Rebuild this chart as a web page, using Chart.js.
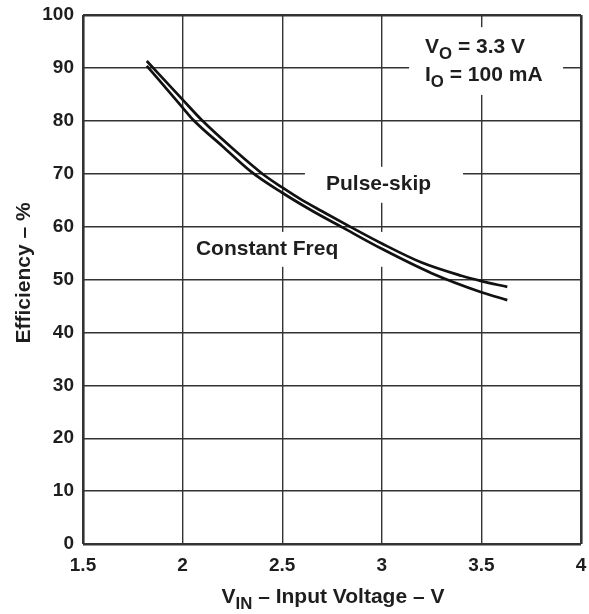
<!DOCTYPE html>
<html>
<head>
<meta charset="utf-8">
<script src="https://cdn.jsdelivr.net/npm/chart.js@4/dist/chart.umd.min.js"></script>
<style>
    html, body { margin: 0; padding: 0; background: #fff; }
    #wrap { width: 589px; height: 614px; position: relative; }
</style>
</head>
<body>
<div id="wrap"><canvas id="effChart"></canvas></div>
<script>
// data
const pulseSkipVin = [1.82, 2.0, 2.1, 2.25, 2.4, 2.5, 2.6, 2.7, 2.84, 3.0, 3.2, 3.4, 3.5, 3.63];
const pulseSkipEff = [91.3, 84.0, 80.0, 74.8, 70.0, 67.4, 65.0, 62.9, 60.0, 56.8, 53.2, 50.7, 49.7, 48.6];

const constFreqVin = [1.82, 2.0, 2.05, 2.2, 2.35, 2.5, 2.65, 2.8, 3.0, 3.25, 3.5, 3.63];
const constFreqEff = [90.4, 82.5, 80.3, 75.2, 70.2, 66.4, 63.0, 59.9, 55.8, 51.2, 47.6, 46.1];

const xTicks = [1.5, 2, 2.5, 3, 3.5, 4];
const yTicks = [0, 10, 20, 30, 40, 50, 60, 70, 80, 90, 100];

const FONT = '"Liberation Sans", Arial, sans-serif';
const INK = "#1e1e1e";
const GRID = "#333";

const toPoints = (xs, ys) => xs.map((x, i) => ({ x: x, y: ys[i] }));

// draws a run of text parts, some as subscripts
function drawRich(ctx, parts, x, y, size) {
    let cx = x;
    parts.forEach((p) => {
        const s = p.sub ? size * 0.8 : size;
        ctx.font = "bold " + s + "px " + FONT;
        ctx.fillText(p.t, cx, p.sub ? y + size * 0.3 : y);
        cx += ctx.measureText(p.t).width;
    });
    return cx - x;
}

function richWidth(ctx, parts, size) {
    let w = 0;
    parts.forEach((p) => {
        ctx.font = "bold " + (p.sub ? size * 0.8 : size) + "px " + FONT;
        w += ctx.measureText(p.t).width;
    });
    return w;
}

const annotations = [
    { box: [3.137, 3.91, 97.7, 84.9], lines: [
        { at: [3.217, 92.8], parts: [{ t: "V" }, { t: "O", sub: true }, { t: " = 3.3 V" }] },
        { at: [3.217, 87.5], parts: [{ t: "I" }, { t: "O", sub: true }, { t: " = 100 mA" }] },
    ] },
    { box: [2.614, 3.408, 71.3, 64.5], lines: [
        { at: [2.72, 66.9], parts: [{ t: "Pulse-skip" }] },
    ] },
    { box: [2.04, 3.35, 59.0, 52.4], lines: [
        { at: [2.067, 54.6], parts: [{ t: "Constant Freq" }] },
    ] },
];

const notesPlugin = {
    id: "notes",
    beforeDatasetsDraw(chart) {
        const { ctx, scales } = chart;
        const x = scales.x, y = scales.y;
        ctx.save();
        annotations.forEach((a) => {
            const l = x.getPixelForValue(a.box[0]);
            const r = x.getPixelForValue(a.box[1]);
            const t = y.getPixelForValue(a.box[2]);
            const b = y.getPixelForValue(a.box[3]);
            ctx.fillStyle = "#fff";
            ctx.fillRect(l, t, r - l, b - t);
            ctx.fillStyle = INK;
            ctx.textBaseline = "alphabetic";
            ctx.textAlign = "left";
            a.lines.forEach((ln) => {
                drawRich(ctx, ln.parts, x.getPixelForValue(ln.at[0]), y.getPixelForValue(ln.at[1]), 21);
            });
        });
        ctx.restore();
    },
    afterDraw(chart) {
        const { ctx } = chart;
        ctx.save();
        ctx.fillStyle = INK;
        ctx.textBaseline = "alphabetic";
        ctx.textAlign = "left";

        // x axis title
        const xParts = [{ t: "V" }, { t: "IN", sub: true }, { t: " – Input Voltage – V" }];
        const w = richWidth(ctx, xParts, 21);
        drawRich(ctx, xParts, 333 - w / 2, 603, 21);

        // y axis title
        ctx.translate(30, 273);
        ctx.rotate(-Math.PI / 2);
        ctx.textAlign = "center";
        ctx.font = "bold 21px " + FONT;
        ctx.fillText("Efficiency – %", 0, 0);
        ctx.restore();
    },
};

const edge = (lo, hi) => (c) => (c.tick && (c.tick.value === lo || c.tick.value === hi) ? 2.6 : 1.4);

new Chart(document.getElementById("effChart"), {
    type: "scatter",

    data: {
        datasets: [
            {
                label: "Pulse-skip",
                data: toPoints(pulseSkipVin, pulseSkipEff),
                showLine: true,
                borderColor: "#111",
                borderWidth: 2.7,
                pointRadius: 0,
                cubicInterpolationMode: "monotone",
            },
            {
                label: "Constant Freq",
                data: toPoints(constFreqVin, constFreqEff),
                showLine: true,
                borderColor: "#111",
                borderWidth: 2.7,
                pointRadius: 0,
                cubicInterpolationMode: "monotone",
            },
        ],
    },

    options: {
        responsive: true,
        maintainAspectRatio: false,
        animation: false,
        events: [],

        layout: {
            padding: { top: 15, right: 8, left: 0, bottom: 0 },
        },

        plugins: {
            legend: { display: false },
            tooltip: { enabled: false },
        },

        scales: {
            x: {
                type: "linear",
                min: 1.5,
                max: 4,
                afterBuildTicks: (s) => { s.ticks = xTicks.map((v) => ({ value: v })); },
                afterFit: (s) => {
                    s.height = 70;
                    s.paddingLeft = 0;
                    s.paddingRight = 0;
                },
                border: { display: false },
                grid: {
                    color: GRID,
                    lineWidth: edge(1.5, 4),
                    drawTicks: false,
                },
                ticks: {
                    color: INK,
                    padding: 10,
                    maxRotation: 0,
                    font: { family: FONT, size: 19, weight: "bold" },
                    callback: (v) => String(v),
                },
            },

            y: {
                min: 0,
                max: 100,
                afterBuildTicks: (s) => { s.ticks = yTicks.map((v) => ({ value: v })); },
                afterFit: (s) => {
                    s.width = 83;
                    s.paddingTop = 0;
                    s.paddingBottom = 0;
                },
                border: { display: false },
                grid: {
                    color: GRID,
                    lineWidth: edge(0, 100),
                    drawTicks: false,
                },
                ticks: {
                    color: INK,
                    padding: 9,
                    font: { family: FONT, size: 19, weight: "bold" },
                },
            },
        },
    },

    plugins: [notesPlugin],
});
</script>
</body>
</html>
